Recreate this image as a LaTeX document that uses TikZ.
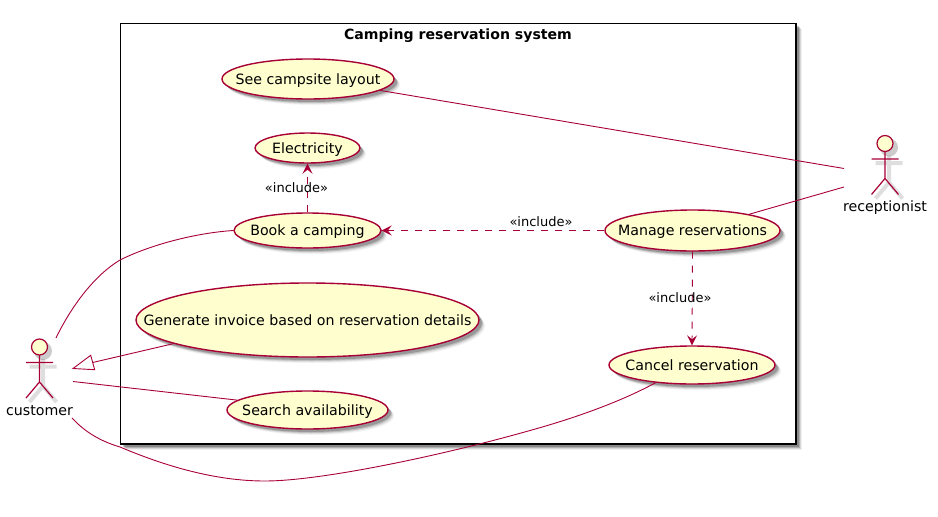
\documentclass[tikz,border=0pt]{standalone}
\usepackage{fontspec}
\setmainfont{DejaVu Sans}
\usetikzlibrary{shapes.geometric,shadows,arrows.meta,calc}
\definecolor{pline}{HTML}{A80036}
\definecolor{pfill}{HTML}{FEFECE}
\tikzset{
  softshadow/.style={
    general shadow={shadow xshift=6pt,shadow yshift=-6pt,fill=black,fill opacity=.05,draw=none,scale=1},
    general shadow={shadow xshift=5pt,shadow yshift=-5pt,fill=black,fill opacity=.08,draw=none,scale=1},
    general shadow={shadow xshift=4pt,shadow yshift=-4pt,fill=black,fill opacity=.14,draw=none,scale=1},
    general shadow={shadow xshift=3pt,shadow yshift=-3pt,fill=black,fill opacity=.20,draw=none,scale=1}},
  usecase/.style={ellipse,draw=pline,fill=pfill,line width=1.4pt,inner sep=0pt,softshadow},
  casetext/.style={font=\fontsize{14.2}{17}\selectfont,inner sep=0pt,anchor=base,yshift=-5.3pt},
  link/.style={draw=pline,line width=.9pt},
  dep/.style={link,dash pattern=on 7pt off 7pt,-{Stealth[inset=4pt,length=10pt,width=10pt,fill=pline,line width=.9pt]}},
  inc/.style={font=\fontsize{13}{15}\selectfont,inner sep=0pt,anchor=base},
  actorname/.style={font=\fontsize{14.2}{17}\selectfont,inner sep=0pt,anchor=base},
  head/.style={circle,draw=pline,fill=pfill,line width=1.2pt,inner sep=0pt,minimum size=16pt},
  limb/.style={draw=pline,line width=1.2pt},
  limbshadow/.style={draw=black,draw opacity=.13,line width=4pt},
}
\newcommand{\stick}[4]{% x, y of head centre, style, head-free
  \draw[#3] (#1,#2+8) -- (#1,#2+35) (#1-13.5,#2+15.5) -- (#1+13.5,#2+15.5)
    (#1-13.5,#2+51) -- (#1,#2+35) -- (#1+13.5,#2+51);
}
\begin{document}
\begin{tikzpicture}[x=1pt,y=-1pt]
\useasboundingbox (0,0) rectangle (938,517);
\fill[white] (0,0) rectangle (938,517);
% system box
\fill[black,opacity=.06] (126,29) rectangle (802,450);
\fill[black,opacity=.10] (125,28) rectangle (801,449);
\fill[black,opacity=.18] (124,27) rectangle (800,448);
\fill[black,opacity=.22] (123,26) rectangle (799,447);
\node[draw=black,fill=white,line width=1.3pt,minimum width=675.5pt,minimum height=420.5pt,inner sep=0pt] (sys) at (458.25,233.75) {};
\node[font=\bfseries\fontsize{14.1}{17}\selectfont,inner sep=0pt,anchor=base] (systitle) at (458,39) {Camping reservation system};
% use cases
\node[usecase,minimum width=172pt,minimum height=40pt] (see) at (308,79) {};
\node[casetext] (seet) at (see) {See campsite layout};
\node[usecase,minimum width=105pt,minimum height=30pt] (elec) at (307.5,148) {};
\node[casetext] (elect) at (elec) {Electricity};
\node[usecase,minimum width=147pt,minimum height=35pt] (book) at (307.5,230.5) {};
\node[casetext] (bookt) at (book) {Book a camping};
\node[usecase,minimum width=343pt,minimum height=74pt] (gen) at (307.5,320) {};
\node[casetext] (gent) at (gen) {Generate invoice based on reservation details};
\node[usecase,minimum width=161pt,minimum height=38pt] (search) at (307.5,410) {};
\node[casetext] (searcht) at (search) {Search availability};
\node[usecase,minimum width=175pt,minimum height=41pt] (manage) at (692.5,230.5) {};
\node[casetext] (managet) at (manage) {Manage reservations};
\node[usecase,minimum width=166pt,minimum height=38pt] (cancel) at (692,365) {};
\node[casetext] (cancelt) at (cancel) {Cancel reservation};
% actors
\stick{43}{351}{limbshadow}{}
\stick{889}{147.5}{limbshadow}{}
\fill[black,opacity=.2] (43,351) circle (9);
\fill[black,opacity=.2] (889,147.5) circle (9);
\stick{39.5}{347}{limb}{}
\stick{885}{143.5}{limb}{}
\node[head] (custhead) at (39.5,347) {};
\node[head] (recphead) at (885,143.5) {};
\node[actorname] (custname) at (39.5,415) {customer};
\node[actorname] (recpname) at (885,211.7) {receptionist};
% attachment points
\coordinate (c1) at (56,338);
\coordinate (c2) at (73,368.5);
\coordinate (c3) at (73,381.5);
\coordinate (c4) at (72,418);
\coordinate (r1) at (844,168.5);
\coordinate (r2) at (844,187);
% associations
\draw[link] (c1) .. controls (72,305) and (95,275) .. (120,260) .. controls (150,245) and (195,233) .. (book.west);
\draw[link] (c3) -- (search.172.5);
\draw[link] (c4) .. controls (85,432) and (100,441) .. (120,447) .. controls (165,466) and (215,481) .. (265,481) .. controls (320,481) and (440,456) .. (530,430.5) .. controls (575,418) and (620,402) .. (cancel.206);
\draw[link] (see.-9) -- (r1);
\draw[link] (manage.16.6) -- (r2);
% generalisation
\draw[link] (gen.190) -- (92.7,362.5);
\draw[link,fill=white,line join=miter] (c2) -- (90.7,355.3) -- (94.7,369.7) -- cycle;
% includes
\draw[dep] (book.north) -- (elec.south);
\draw[dep] (manage.west) -- (book.east);
\draw[dep] (manage.south) -- (cancel.north);
\node[inc] (l1) at (296.5,192.7) {«include»};
\node[inc] (l2) at (541,226.5) {«include»};
\node[inc] (l3) at (680,302.7) {«include»};
\end{tikzpicture}
\end{document}
